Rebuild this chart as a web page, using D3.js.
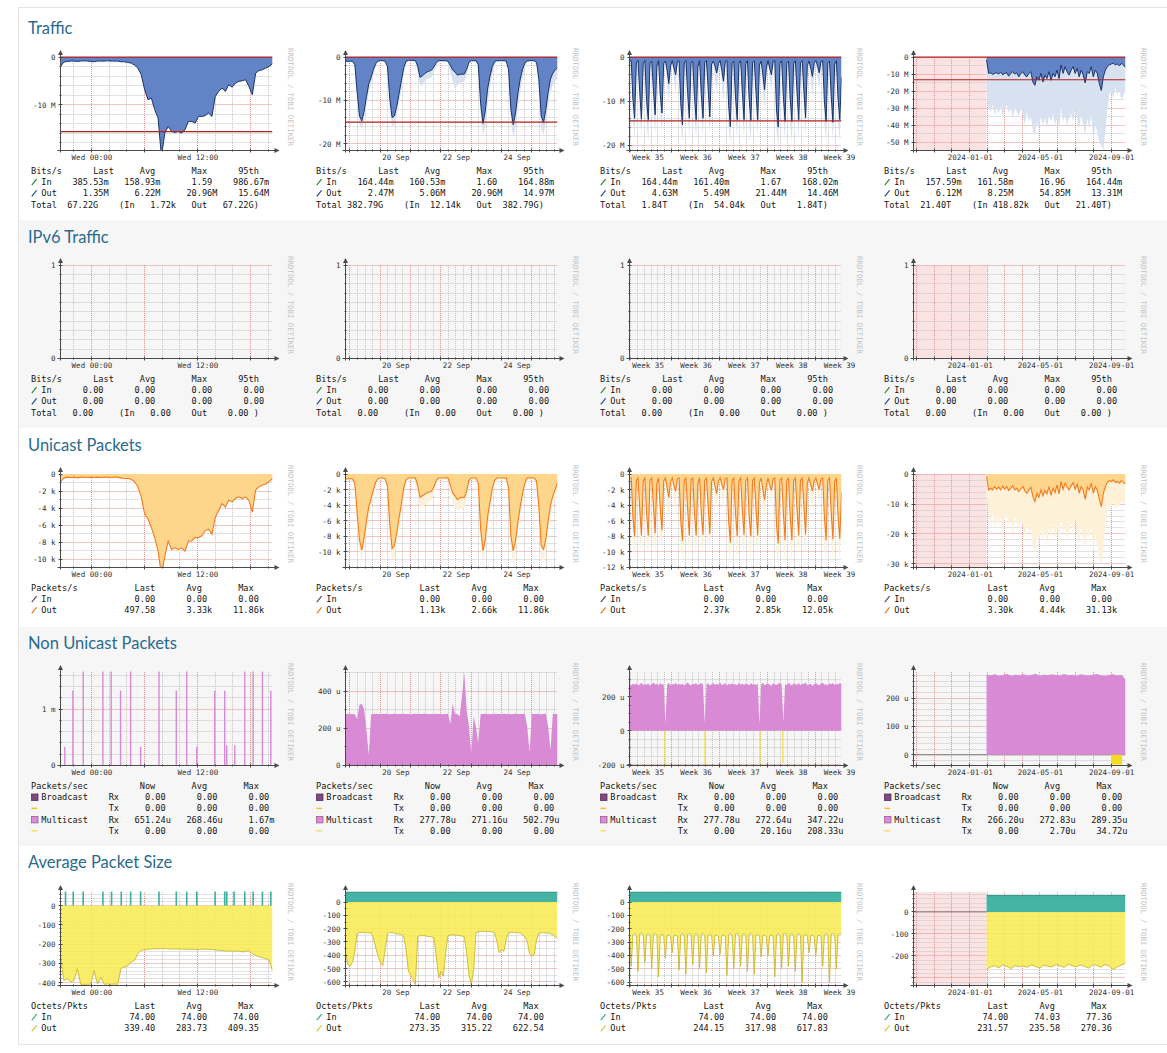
<!DOCTYPE html>
<html>
<head>
<meta charset="utf-8">
<title>Port graphs</title>
<script src="https://cdn.jsdelivr.net/npm/d3@7"></script>
<style>
	html, body { margin: 0; padding: 0; background: #ffffff; }
	svg { display: block; }
	.section-title { font-family: Lato, "Noto Sans", sans-serif; font-size: 16.5px; fill: #2a6b90; }
	.axis-label { font-family: "DejaVu Sans Mono", monospace; font-size: 7.5px; fill: #333; }
	.legend { font-family: "DejaVu Sans Mono", monospace; font-size: 8.6px; fill: #151515; }
	.watermark { font-family: "DejaVu Sans Mono", monospace; font-size: 7.4px; fill: #c4c4c4; }
	.grid-minor { stroke: #c4c4c4; stroke-width: 1; stroke-dasharray: 1 1; }
	.grid-major { stroke: #e58f8f; stroke-width: 1; stroke-dasharray: 1 1; }
	.axis-line { stroke: #4a4a4a; stroke-width: 1; fill: none; }
</style>
</head>
<body>
<svg id="chart" width="1167" height="1053"></svg>
<script>
/** sections and time ranges */
var sectionTitles = ['Traffic', 'IPv6 Traffic', 'Unicast Packets', 'Non Unicast Packets', 'Average Packet Size'];
var periodNames = ['day', 'week', 'month', 'year'];
var graphEnd = '2024-09-25 20:30';
var yearDataStart = '2024-01-30';

/** Traffic, Mbit/s; out is drawn below zero */
var trafficDayOut = [1.96, 1.05, 0.91, 0.84, 0.84, 0.91, 0.84, 0.77, 0.84, 0.91,
	0.98, 0.84, 0.84, 0.84, 0.77, 0.84, 0.84, 0.84, 0.98, 0.98,
	1.12, 1.26, 1.68, 2.31, 3.71, 6.85, 8.95, 8.6, 11.05, 12.8,
	20.9, 15.94, 14.55, 15.6, 15.8, 15.6, 15.94, 15.24, 13.5, 13.5,
	13.85, 12.45, 12.45, 12.3, 11.75, 12.45, 8.25, 7.2, 6.5, 7.2,
	5.8, 6.3, 5.45, 5.1, 4.96, 4.75, 6.15, 7.9, 3.36, 2.8,
	2.66, 2.31, 1.96, 1.35];
var trafficWeekOut = [0.96, 0.96, 0.96, 0.96, 1.7, 8.0, 13.56, 14.67, 12.44, 9.11,
	6.15, 4.67, 2.81, 1.48, 0.89, 0.81, 0.81, 0.96, 2.07, 9.48,
	13.93, 13.56, 11.33, 8.37, 5.41, 2.44, 0.96, 0.74, 0.74, 0.74,
	0.81, 2.07, 4.67, 4.3, 3.85, 3.41, 3.19, 2.96, 2.22, 1.19,
	0.81, 0.81, 0.81, 0.81, 0.96, 1.93, 2.96, 3.41, 4.15, 4.0,
	3.93, 3.93, 2.81, 1.19, 0.81, 0.81, 0.81, 1.7, 10.6, 15.26,
	12.44, 7.26, 4.44, 2.22, 1.04, 0.81, 0.81, 0.81, 0.81, 0.89,
	2.81, 12.07, 15.56, 12.81, 8.37, 5.04, 2.81, 1.33, 0.89, 0.81,
	0.81, 0.81, 1.19, 5.04, 13.56, 15.04, 12.07, 8.0, 5.04, 3.7,
	2.96, 2.47];
var trafficWeekOutMax = [1.2, 1.2, 1.2, 1.2, 2.5, 10, 15.5, 16.5, 14.5, 11,
	8, 6, 4, 2.2, 1.2, 1.1, 1.1, 1.1, 3, 12,
	16, 15.5, 13.5, 10.5, 7.5, 4, 1.5, 1.0, 1.0, 1.0,
	1.0, 4, 6.5, 6.5, 5.5, 5, 5, 4.5, 3.5, 1.8,
	1.1, 1.1, 1.1, 1.1, 1.1, 3.5, 5.5, 7, 6.5, 6,
	5.8, 5.5, 4, 1.5, 1.1, 1.1, 1.1, 3, 13, 18,
	16, 11, 7, 4, 1.8, 1.1, 1.1, 1.1, 1.1, 1.1,
	4, 15, 18.5, 16, 11.5, 8, 5, 2.5, 1.1, 1.1,
	1.1, 1.1, 2, 8, 16.5, 18, 15, 11, 8, 6.5,
	5.5, 5];
// six-hourly samples from Sun 25 Aug 20:30
var trafficMonthOut = [0.9,
	0.8, 9.5, 13.9, 1.3, 0.8, 8.0, 14.1, 1.5, 0.8, 10.0, 14.2, 1.2, 0.9, 7.5, 13.1, 2.0,
	0.8, 8.5, 12.7, 1.4, 0.9, 3.0, 6.0, 2.0, 0.8, 2.5, 4.0, 1.0,
	0.8, 10.5, 15.4, 1.3, 0.8, 8.0, 13.9, 1.2, 0.9, 9.0, 14.2, 2.2, 0.8, 8.5, 13.9, 1.2,
	0.8, 7.0, 13.6, 1.6, 0.9, 2.0, 3.6, 1.5, 0.8, 3.0, 5.5, 1.0,
	0.8, 11.0, 15.8, 1.3, 0.9, 9.0, 14.2, 1.4, 0.8, 8.0, 14.2, 1.5, 0.8, 9.5, 14.4, 1.2,
	0.9, 8.0, 14.2, 1.8, 0.9, 4.0, 7.4, 2.5, 0.8, 2.5, 4.0, 1.0,
	0.8, 12.0, 15.9, 1.4, 0.8, 9.0, 14.6, 1.3, 0.9, 9.5, 14.6, 1.5, 0.8, 8.0, 14.2, 1.3,
	0.8, 7.5, 13.8, 1.9, 0.9, 2.5, 4.4, 1.4, 0.8, 2.0, 3.6, 1.0,
	0.8, 10.0, 14.6, 1.3, 0.9, 9.0, 14.8, 1.6, 0.8, 9.5, 14.2, 4.63];
var trafficMonthOutMax = [2.0,
	1.5, 14, 18.5, 3.5, 1.5, 13, 18, 4, 1.6, 15, 19, 3, 1.5, 12, 17.5, 4.5,
	1.5, 13, 17, 3.5, 1.6, 6, 10, 4, 1.5, 5, 8, 2.5,
	1.5, 15, 19.5, 3.5, 1.5, 13, 18, 3, 1.6, 14, 18.5, 5, 1.5, 13.5, 18, 3,
	1.5, 12, 17.5, 4, 1.6, 5, 8, 3.5, 1.5, 6, 10, 2.5,
	1.5, 16, 20, 3.5, 1.6, 14, 18.5, 3.5, 1.5, 13, 18.5, 4, 1.5, 15, 19, 3,
	1.6, 13, 18, 4.5, 1.6, 8, 12, 5, 1.5, 5, 8, 2.5,
	1.5, 16.5, 20.5, 3.5, 1.5, 14, 19, 3.5, 1.6, 15, 19.5, 4, 1.5, 13, 18.5, 3.5,
	1.5, 12.5, 18, 4.5, 1.6, 5, 9, 3.5, 1.5, 4.5, 7.5, 2.5,
	1.5, 15, 19.5, 3.5, 1.6, 14, 19, 4, 1.5, 15, 19, 8];
// roughly every 3.5 days from the first stored sample
var trafficYearOut = [1.6, 9.6, 9.2, 10.2, 9.6, 9.2, 10.0, 8.8, 10.4, 9.6,
	9.2, 11.2, 9.6, 8.6, 10.0, 9.2, 11.6, 9.6, 8.6, 10.6,
	11.6, 9.6, 8.6, 14.6, 16.6, 11.6, 13.6, 9.6, 14.6, 10.6,
	12.6, 8.6, 13.6, 9.6, 11.6, 7.6, 12.6, 4.6, 9.6, 5.6,
	8.6, 10.6, 7.6, 5.6, 9.6, 6.6, 11.6, 7.6, 10.6, 15.2,
	8.6, 9.6, 5.6, 11.6, 7.6, 9.6, 15.6, 19.6, 11.6, 7.6,
	5.6, 4.6, 4.0, 3.6, 4.6, 4.0, 5.2, 3.6, 4.6, 6.12];
var trafficYearOutMax = [20, 30, 32, 28, 34, 30, 33, 29, 35, 31,
	28, 33, 30, 36, 30, 32, 35, 30, 34, 40,
	32, 38, 35, 44, 46, 38, 42, 35, 40, 36,
	42, 34, 38, 33, 40, 36, 42, 30, 38, 34,
	40, 36, 33, 38, 30, 36, 42, 34, 40, 45,
	36, 42, 34, 48, 40, 44, 50, 52, 54.8, 44,
	30, 22, 20, 24, 18, 22, 20, 25, 22, 20];
var trafficOut95th = [15.64, 14.97, 14.46, 13.31];
var trafficYMin = [-19.6, -21.5, -21.2, -54.9];
var trafficYMinor = [2, 2, 2, 5];
var trafficYTicks = [[-10, 0], [-20, -10, 0], [-20, -10, 0], [-50, -40, -30, -20, -10, 0]];
var trafficYLabels = [['-10 M', '0'], ['-20 M', '-10 M', '0'], ['-20 M', '-10 M', '0'],
	['-50 M', '-40 M', '-30 M', '-20 M', '-10 M', '0']];
var trafficLegendIn = [['385.53m', '158.93m', '1.59', '986.67m'], ['164.44m', '160.53m', '1.60', '164.88m'],
	['164.44m', '161.40m', '1.67', '168.02m'], ['157.59m', '161.58m', '16.96', '164.44m']];
var trafficLegendOut = [['1.35M', '6.22M', '20.96M', '15.64M'], ['2.47M', '5.06M', '20.96M', '14.97M'],
	['4.63M', '5.49M', '21.44M', '14.46M'], ['6.12M', '8.25M', '54.85M', '13.31M']];
var trafficLegendTotal = [['67.22G', '1.72k', '67.22G'], ['382.79G', '12.14k', '382.79G'],
	['1.84T', '54.04k', '1.84T'], ['21.40T', '418.82k', '21.40T']];

/** IPv6 traffic */
var ipv6Values = [0, 0];
var ipv6Legend = ['0.00', '0.00', '0.00', '0.00'];
var ipv6LegendTotal = ['0.00', '0.00', '0.00'];

/** Unicast packets, k/s; out is drawn below zero */
var unicastDayOut = [0.88, 0.48, 0.36, 0.4, 0.36, 0.44, 0.36, 0.36, 0.4, 0.36,
	0.4, 0.36, 0.4, 0.36, 0.36, 0.4, 0.36, 0.36, 0.44, 0.52,
	0.52, 0.6, 0.88, 1.48, 2.68, 4.68, 5.28, 6.28, 7.48, 9.08,
	11.86, 9.68, 7.88, 8.88, 8.68, 8.88, 8.68, 9.08, 7.88, 7.88,
	7.48, 7.48, 7.28, 6.68, 6.48, 7.08, 5.08, 4.28, 3.48, 3.88,
	3.08, 3.28, 2.88, 2.68, 2.88, 2.68, 3.08, 4.48, 1.88, 1.48,
	1.28, 1.16, 0.88, 0.5];
var unicastWeekOut = [0.6, 0.6, 0.6, 0.6, 1.2, 5, 8.5, 9.8, 8.2, 6.0,
	4.2, 3.2, 2.0, 1.0, 0.6, 0.5, 0.5, 0.6, 1.5, 6.5,
	9.6, 9.2, 7.6, 5.6, 3.8, 1.8, 0.7, 0.5, 0.5, 0.5,
	0.5, 1.5, 3.0, 2.8, 2.6, 2.4, 2.3, 2.2, 1.6, 0.8,
	0.5, 0.5, 0.5, 0.5, 0.5, 1.4, 2.4, 2.8, 3.3, 3.1,
	3.0, 3.0, 2.2, 0.8, 0.5, 0.5, 0.5, 1.2, 7.0, 9.9,
	8.5, 5.5, 3.6, 1.9, 0.8, 0.5, 0.5, 0.5, 0.5, 0.5,
	1.8, 8.0, 9.9, 8.6, 6.2, 4.2, 2.5, 1.2, 0.5, 0.5,
	0.5, 0.5, 0.9, 4.2, 9.2, 9.7, 8.4, 6.0, 4.0, 2.8,
	2.0, 1.13];
var unicastWeekOutMax = [0.8, 0.8, 0.8, 0.8, 1.8, 6.5, 10, 11, 9.5, 7.5,
	5.5, 4.2, 3, 1.6, 0.8, 0.7, 0.7, 0.7, 2.2, 8,
	11, 10.8, 9, 7, 5, 2.8, 1.0, 0.7, 0.7, 0.7,
	0.7, 2.5, 4.5, 4.2, 4, 3.8, 3.5, 3.3, 2.5, 1.2,
	0.7, 0.7, 0.7, 0.7, 0.7, 2.2, 3.6, 4.2, 4.8, 4.5,
	4.4, 4.3, 3.2, 1.2, 0.7, 0.7, 0.7, 2, 8.5, 11.5,
	10, 7, 5, 3, 1.2, 0.7, 0.7, 0.7, 0.7, 0.7,
	2.5, 9.5, 11.86, 10, 7.5, 5.5, 3.5, 1.8, 0.7, 0.7,
	0.7, 0.7, 1.4, 5.5, 10.8, 11.3, 10, 7.5, 5.5, 4,
	3, 2];
var unicastMonthOut = [0.5,
	0.5, 5.5, 8.0, 0.8, 0.5, 4.5, 7.9, 0.9, 0.5, 5.0, 7.9, 0.8, 0.5, 4.0, 7.6, 1.2,
	0.5, 4.5, 7.2, 0.9, 0.5, 1.8, 3.0, 1.0, 0.5, 1.5, 2.2, 0.6,
	0.5, 6.0, 8.6, 0.8, 0.5, 4.5, 7.9, 0.7, 0.5, 5.0, 7.9, 1.3, 0.5, 5.0, 7.8, 0.8,
	0.5, 4.0, 7.7, 1.0, 0.5, 1.5, 2.5, 0.9, 0.5, 1.3, 2.0, 0.6,
	0.5, 6.0, 8.8, 0.8, 0.5, 5.0, 8.0, 0.9, 0.5, 4.5, 7.8, 0.9, 0.5, 5.5, 8.0, 0.8,
	0.5, 4.5, 7.9, 1.1, 0.5, 2.0, 3.3, 1.5, 0.5, 1.4, 2.1, 0.6,
	0.5, 6.5, 8.9, 0.8, 0.5, 5.0, 8.5, 0.8, 0.5, 5.5, 8.5, 0.9, 0.5, 4.5, 7.9, 0.8,
	0.5, 4.0, 7.8, 1.2, 0.5, 1.4, 2.2, 0.9, 0.5, 1.3, 2.0, 0.6,
	0.5, 5.5, 8.5, 0.8, 0.5, 5.0, 8.4, 1.0, 0.5, 5.5, 8.3, 2.37];
var unicastMonthOutMax = [1.0,
	0.8, 9.0, 10.8, 1.8, 0.8, 8.5, 10.5, 1.9, 0.8, 8.8, 10.6, 1.7, 0.8, 8.0, 10.2, 2.2,
	0.8, 8.2, 9.8, 1.9, 0.8, 3.5, 5.5, 2.0, 0.8, 3.0, 4.5, 1.4,
	0.8, 9.5, 11.5, 1.8, 0.8, 8.5, 10.6, 1.7, 0.8, 8.8, 10.8, 2.4, 0.8, 8.6, 10.5, 1.7,
	0.8, 8.0, 10.2, 2.0, 0.8, 3.0, 4.5, 1.6, 0.8, 2.8, 4.2, 1.3,
	0.8, 9.8, 11.8, 1.8, 0.8, 9.0, 10.8, 1.9, 0.8, 8.5, 10.5, 1.9, 0.8, 9.0, 10.9, 1.8,
	0.8, 8.5, 10.6, 2.1, 0.8, 4.0, 6.0, 2.4, 0.8, 2.8, 4.2, 1.3,
	0.8, 10.0, 12.05, 1.8, 0.8, 9.2, 11.2, 1.8, 0.8, 9.2, 11.0, 1.9, 0.8, 8.6, 10.5, 1.8,
	0.8, 8.2, 10.2, 2.2, 0.8, 3.0, 4.6, 1.8, 0.8, 2.6, 4.0, 1.3,
	0.8, 9.4, 11.2, 1.8, 0.8, 9.2, 11.0, 2.0, 0.8, 9.0, 10.8, 3.2];
var unicastYearOut = [0.79, 5.28, 4.72, 5.28, 4.16, 5.06, 4.38, 5.28, 3.93, 5.06,
	4.16, 5.51, 4.72, 3.93, 5.28, 4.72, 5.84, 5.06, 4.16, 5.51,
	6.4, 5.28, 4.38, 7.53, 9.21, 6.4, 7.75, 5.28, 7.3, 5.51,
	6.63, 4.16, 6.97, 4.72, 6.18, 3.6, 6.63, 2.47, 5.06, 3.03,
	4.38, 5.28, 3.93, 2.81, 5.06, 3.26, 6.4, 4.16, 5.28, 8.43,
	4.38, 5.28, 3.03, 6.4, 4.16, 5.28, 8.43, 10.9, 6.4, 4.16,
	2.81, 2.13, 2.47, 1.91, 2.81, 2.47, 3.03, 2.13, 2.81, 3.30];
var unicastYearOutMax = [6, 14, 16, 13, 18, 15, 17, 14, 19, 15,
	13, 17, 15, 20, 14, 16, 18, 15, 17, 22,
	16, 20, 18, 24, 26, 20, 23, 18, 22, 19,
	24, 17, 21, 16, 22, 18, 24, 14, 20, 17,
	22, 19, 16, 21, 15, 19, 23, 17, 21, 25,
	18, 22, 16, 26, 20, 24, 28, 31, 24, 18,
	12, 10, 11, 9, 12, 10, 11, 9, 10, 9];
var unicastYMin = [-11.0, -12.05, -12.0, -31.2];
var unicastYMinor = [1, 1, 1, 2];
var unicastYMajor = [2, 2, 2, 10];
var unicastYTicks = [[-10, -8, -6, -4, -2, 0], [-10, -8, -6, -4, -2, 0], [-12, -10, -8, -6, -4, -2, 0], [-30, -20, -10, 0]];
var unicastYLabels = [['-10 k', '-8 k', '-6 k', '-4 k', '-2 k', '0'], ['-10 k', '-8 k', '-6 k', '-4 k', '-2 k', '0'],
	['-12 k', '-10 k', '-8 k', '-6 k', '-4 k', '-2 k', '0'], ['-30 k', '-20 k', '-10 k', '0']];
var unicastLegendIn = [['0.00', '0.00', '0.00'], ['0.00', '0.00', '0.00'], ['0.00', '0.00', '0.00'], ['0.00', '0.00', '0.00']];
var unicastLegendOut = [['497.58', '3.33k', '11.86k'], ['1.13k', '2.66k', '11.86k'], ['2.37k', '2.85k', '12.05k'], ['3.30k', '4.44k', '31.13k']];

/** Non unicast packets, u/s (multicast tx drawn below zero) */
var multicastDayRx = [[0.49, 330], [1.40, 1330], [2.57, 1670], [4.80, 1670], [5.74, 1670], [6.80, 1330], [7.94, 1670],
	[9.07, 330], [11.15, 1670], [13.11, 1330], [14.29, 1670], [15.42, 330], [17.46, 1330], [18.59, 1330],
	[18.82, 360], [19.73, 360], [20.86, 1670], [21.81, 1670], [22.86, 1670], [23.81, 1330]];
var multicastWeekRx = [278, 277, 279, 278, 276, 249, 327, 333, 300, 191,
	55, 278, 277, 279, 278, 278, 277, 279, 278, 276,
	278, 279, 277, 278, 278, 279, 277, 278, 276, 278,
	279, 278, 277, 278, 279, 278, 277, 278, 278, 279,
	277, 278, 276, 278, 279, 224, 333, 278, 277, 264,
	373, 500, 300, 209, 64, 264, 209, 118, 278, 277,
	279, 278, 276, 278, 279, 277, 278, 278, 279, 277,
	278, 276, 278, 279, 277, 278, 278, 279, 209, 73,
	278, 277, 279, 278, 276, 278, 279, 209, 82, 278,
	277, 278];
var multicastMonthRx = [272, 268, 276, 270, 280, 266, 274, 282, 269, 275,
	271, 278, 265, 273, 284, 270, 276, 268, 279, 272,
	274, 40, 270, 281, 267, 275, 272, 283, 269, 276,
	270, 278, 266, 274, 285, 271, 268, 277, 273, 280,
	267, 275, 282, 270, 45, 272, 279, 266, 274, 281,
	269, 276, 271, 284, 268, 273, 279, 265, 277, 272,
	280, 270, 274, 267, 283, 271, 276, 269, 278, 273,
	266, 281, 272, 275, 268, 279, 35, 270, 284, 267,
	274, 278, 271, 265, 280, 273, 269, 277, 282, 270,
	50, 275, 268, 283, 272, 266, 279, 274, 270, 281,
	267, 276, 273, 285, 269, 271, 278, 264, 275, 280,
	272, 268, 277, 283, 270, 274, 266, 279, 273, 281,
	269, 276, 272, 280, 277.78];
var multicastMonthTx = [[5.19, 200], [11.04, 208], [19.08, 205], [22.43, 190]];
var multicastYearRx = [283, 281, 284, 280, 282, 285, 279, 283, 281, 284,
	280, 282, 286, 279, 283, 281, 284, 282, 280, 285,
	281, 283, 279, 284, 282, 280, 283, 285, 281, 279,
	282, 284, 280, 283, 266.2];
var multicastYearTx = [['2024-09-01', '2024-09-20', 34.72]];
var nonUnicastYDomain = [[0, 1660], [0, 503], [-204, 345], [-37.8, 292]];
var nonUnicastYMinor = [200, 100, 50, 20];
var nonUnicastYMajor = [1000, 200, 200, 100];
var nonUnicastYTicks = [[0, 1000], [0, 200, 400], [-200, 0, 200], [0, 100, 200]];
var nonUnicastYLabels = [['0', '1 m'], ['0', '200 u', '400 u'], ['-200 u', '0', '200 u'], ['0', '100 u', '200 u']];
var broadcastLegend = ['0.00', '0.00', '0.00'];
var multicastLegendRx = [['651.24u', '268.46u', '1.67m'], ['277.78u', '271.16u', '502.79u'],
	['277.78u', '272.64u', '347.22u'], ['266.20u', '272.83u', '289.35u']];
var multicastLegendTx = [['0.00', '0.00', '0.00'], ['0.00', '0.00', '0.00'], ['0.00', '20.16u', '208.33u'], ['0.00', '2.70u', '34.72u']];

/** Average packet size, octets; out is drawn below zero */
var avgDayIn = [[0.57, 74], [1.44, 74], [2.57, 74], [4.80, 74], [5.78, 74], [6.88, 74], [7.94, 74], [9.07, 74],
	[11.15, 74], [13.11, 74], [14.29, 74], [15.42, 74], [17.50, 74], [18.59, 74], [18.82, 74], [19.65, 74],
	[20.86, 74], [21.81, 74], [22.86, 74], [23.81, 74]];
var avgDayOut = [267, 389, 380, 396, 389, 328, 409, 409, 409, 407,
	337, 407, 372, 409, 407, 409, 407, 409, 325, 319,
	312, 293, 284, 249, 232, 228, 226, 225, 224, 224,
	223, 223, 224, 224, 225, 225, 226, 226, 226, 227,
	227, 228, 225, 226, 227, 228, 229, 232, 233, 235,
	236, 236, 237, 235, 240, 238, 232, 250, 258, 265,
	270, 275, 283, 339.4];
var avgIn = [74, 74];
var avgWeekOut = [382, 470, 482, 452, 370, 238, 228, 228, 228, 230,
	232, 232, 270, 345, 408, 452, 478, 358, 238, 228,
	230, 232, 238, 242, 245, 258, 358, 520, 552, 582,
	620, 262, 252, 252, 252, 257, 260, 262, 270, 408,
	570, 520, 557, 382, 252, 248, 245, 248, 250, 252,
	255, 262, 382, 545, 620, 508, 232, 222, 220, 220,
	220, 220, 222, 225, 232, 295, 382, 358, 370, 278,
	232, 228, 228, 228, 230, 232, 245, 262, 295, 388,
	402, 395, 282, 232, 232, 230, 232, 232, 238, 245,
	262, 273.35];
var avgMonthOut = [255,
	480, 245, 235, 250, 520, 240, 232, 248, 450, 245, 236, 252, 500, 242, 234, 250,
	560, 248, 238, 255, 420, 250, 245, 258, 380, 252, 248, 255,
	510, 244, 234, 250, 540, 240, 233, 248, 470, 246, 236, 252, 500, 243, 235, 250,
	530, 247, 237, 254, 400, 250, 246, 257, 390, 252, 247, 255,
	550, 243, 233, 249, 500, 241, 232, 250, 480, 245, 236, 251, 520, 242, 234, 249,
	540, 247, 238, 255, 410, 251, 246, 256, 400, 253, 248, 254,
	560, 244, 234, 250, 500, 240, 232, 248, 480, 246, 236, 252, 520, 243, 235, 250,
	600, 248, 238, 256, 380, 252, 247, 257, 400, 253, 248, 255,
	480, 244, 235, 250, 600, 241, 233, 249, 500, 245, 236, 244.15];
var avgYearOut = [262, 250, 245, 255, 240, 248, 258, 244, 250, 246,
	252, 241, 249, 255, 243, 247, 251, 240, 245, 253,
	238, 246, 250, 242, 248, 256, 240, 244, 252, 239,
	247, 262, 250, 242, 231.57];
var avgYDomain = [[-415, 71], [-627, 75], [-625, 75], [-335, 90]];
var avgYMinor = [20, 50, 50, 20];
var avgYTicks = [[-400, -300, -200, -100, 0], [-600, -500, -400, -300, -200, -100, 0], [-600, -500, -400, -300, -200, -100, 0], [-200, -100, 0]];
var avgYLabels = [['-400', '-300', '-200', '-100', '0'], ['-600', '-500', '-400', '-300', '-200', '-100', '0'],
	['-600', '-500', '-400', '-300', '-200', '-100', '0'], ['-200', '-100', '0']];
var avgLegendIn = [['74.00', '74.00', '74.00'], ['74.00', '74.00', '74.00'], ['74.00', '74.00', '74.00'], ['74.00', '74.03', '77.36']];
var avgLegendOut = [['339.40', '283.73', '409.35'], ['273.35', '315.22', '622.54'], ['244.15', '317.98', '617.83'], ['231.57', '235.58', '270.36']];

(function(d3) {
	'use strict';

	var svg = d3.select('#chart');
	var PLOT_W = 212, PLOT_H = 93.4, CHAR_W = 5.18, LINE_H = 11.2;
	var colLeft = [60.5, 345.5, 629.5, 913.5];
	var rowBottom = [150.5, 358.5, 567.5, 765.5, 985.5];
	var titleY = [34, 243, 451, 649, 868];
	var bandY = [10, 220, 428, 627, 846, 1044];
	var bandFill = ['#ffffff', '#f6f6f6', '#ffffff', '#f6f6f6', '#ffffff'];

	var parseTime = d3.timeParse('%Y-%m-%d %H:%M'), parseDay = d3.timeParse('%Y-%m-%d');
	var END = parseTime(graphEnd), YEAR_START = parseDay(yearDataStart);
	var domains = {
		day: [d3.timeHour.offset(END, -24), END],
		week: [d3.timeDay.offset(END, -7), END],
		month: [d3.timeDay.offset(END, -31), END],
		year: [d3.timeDay.offset(END, -366), END]
	};

	/** time grid and labels, rrdtool style */
	var timeGrid = {
		day: {
			minor: d3.timeHour.every(2), major: d3.timeHour.every(6), format: d3.timeFormat('%a %H:%M'),
			labels: function(dom) { return d3.timeHour.every(12).range(dom[0], dom[1]); }
		},
		week: {
			minor: d3.timeHour.every(6), major: d3.timeDay, format: d3.timeFormat('%d %b'),
			labels: function(dom) {
				return d3.timeDay.range(dom[0], dom[1]).filter(function(d) {
					return d.getDate() % 2 === 0;
				}).map(function(d) { return d3.timeHour.offset(d, 12); }).filter(function(d) { return d < dom[1]; });
			}
		},
		month: {
			minor: d3.timeDay, major: d3.timeSunday, format: d3.timeFormat('Week %V'),
			labels: function(dom) {
				return d3.timeSunday.range(d3.timeDay.offset(dom[0], -7), dom[1]).map(function(d) {
					return d3.timeHour.offset(d, 84);
				}).filter(function(d) { return d > dom[0] && d < dom[1]; });
			}
		},
		year: {
			minor: null, major: d3.timeMonth, format: d3.timeFormat('%Y-%m-%d'),
			labels: function(dom) { return d3.timeMonth.every(4).range(dom[0], dom[1]); }
		}
	};

	var spread = function(values, from, to) {
		var t0 = +from, t1 = +to, n = values.length;
		return values.map(function(v, i) {
			return { t: new Date(t0 + (t1 - t0) * i / (n - 1)), v: v };
		});
	};
	var offsetTime = function(from, amount, unit) {
		return new Date(+from + amount * (unit === 'hour' ? 3600e3 : 86400e3));
	};
	var stepValues = function(domain, step) {
		var lo = Math.ceil(domain[0] / step - 1e-6), hi = Math.floor(domain[1] / step + 1e-6);
		return d3.range(lo, hi + 1).map(function(k) { return Math.round(k * step * 1000) / 1000; });
	};
	var crisp = function(v) { return Math.round(v - 0.5) + 0.5; };

	/** legend helpers: monospace columns */
	var sfx = function(v) { return /[a-zA-Z]$/.test(v) ? v : v + ' '; };
	var tok = function(text, col, alignRight) {
		return [text, alignRight ? col - text.length + 1 : col];
	};
	var valueTokens = function(values, ends) {
		return values.map(function(v, i) { return tok(sfx(v), ends[i], true); });
	};
	var bitsLegend = function(inVals, outVals, totals) {
		var ends = [14, 24, 35, 45];
		return [
			{ tokens: [tok('Bits/s', 0), tok('Last', 12), tok('Avg', 21), tok('Max', 31), tok('95th', 40)] },
			{ marker: { type: 'slash', color: '#2f8a34' }, tokens: [tok('In', 2)].concat(valueTokens(inVals, ends)) },
			{ marker: { type: 'slash', color: '#2b4c9c' }, tokens: [tok('Out', 2)].concat(valueTokens(outVals, ends)) },
			{ tokens: [tok('Total', 0), tok(sfx(totals[0]), 12, true), tok('(In', 17), tok(sfx(totals[1]), 27, true),
				tok('Out', 31), tok(sfx(totals[2]) + ')', 43, true)] }
		];
	};
	var packetLegend = function(title, inVals, outVals, inColor, outColor) {
		var ends = [24, 34, 44];
		return [
			{ tokens: [tok(title, 0), tok('Last', 20), tok('Avg', 30), tok('Max', 40)] },
			{ marker: { type: 'slash', color: inColor }, tokens: [tok('In', 2)].concat(valueTokens(inVals, ends)) },
			{ marker: { type: 'slash', color: outColor }, tokens: [tok('Out', 2)].concat(valueTokens(outVals, ends)) }
		];
	};
	var nonUnicastLegend = function(c) {
		var ends = [26, 36, 46];
		return [
			{ tokens: [tok('Packets/sec', 0), tok('Now', 21), tok('Avg', 31), tok('Max', 41)] },
			{ marker: { type: 'box', color: '#7d4a80', stroke: '#5a2f5d' }, tokens: [tok('Broadcast', 2), tok('Rx', 15)].concat(valueTokens(broadcastLegend, ends)) },
			{ marker: { type: 'dash', color: '#f0c21c' }, tokens: [tok('Tx', 15)].concat(valueTokens(broadcastLegend, ends)) },
			{ marker: { type: 'box', color: '#da8cd7', stroke: '#9b5c98' }, tokens: [tok('Multicast', 2), tok('Rx', 15)].concat(valueTokens(multicastLegendRx[c], ends)) },
			{ marker: { type: 'dash', color: '#f5e04a' }, tokens: [tok('Tx', 15)].concat(valueTokens(multicastLegendTx[c], ends)) }
		];
	};

	var drawMarker = function(g, m, x0, cy) {
		if (m.type === 'slash') {
			g.append('line').attr('x1', x0 + 0.8).attr('y1', cy + 3).attr('x2', x0 + 5.6).attr('y2', cy - 3)
				.attr('stroke', m.color).attr('stroke-width', 1.2);
		} else if (m.type === 'box') {
			g.append('rect').attr('x', x0 + 0.5).attr('y', cy - 3.2).attr('width', 6.5).attr('height', 6.5)
				.attr('fill', m.color).attr('stroke', m.stroke).attr('stroke-width', 0.8);
		} else {
			g.append('line').attr('x1', x0 + 0.5).attr('y1', cy).attr('x2', x0 + 6).attr('y2', cy)
				.attr('stroke', m.color).attr('stroke-width', 1.4);
		}
	};

	var cleanAxis = function(sel) {
		sel.select('.domain').remove();
		sel.selectAll('text').attr('class', 'axis-label').attr('fill', null);
	};

	/** one rrdtool image */
	var drawGraph = function(spec, index) {
		var left = colLeft[spec.col], bottom = rowBottom[spec.row];
		var top = bottom - PLOT_H, right = left + PLOT_W;
		var dom = domains[spec.period], grid = timeGrid[spec.period];
		var x = d3.scaleTime().domain(dom).range([left, right]);
		var y = d3.scaleLinear().domain(spec.yDomain).range([bottom, top]);
		var g = svg.append('g').attr('class', 'graph');

		var clipId = 'plot-clip-' + index;
		g.append('clipPath').attr('id', clipId).append('rect')
			.attr('x', left).attr('y', top - 1).attr('width', PLOT_W).attr('height', PLOT_H + 1);
		var plot = g.append('g').attr('clip-path', 'url(#' + clipId + ')');

		if (spec.unknownUntil) {
			plot.append('rect').attr('x', left).attr('y', top).attr('width', x(spec.unknownUntil) - left)
				.attr('height', PLOT_H).attr('fill', '#fbe3e3');
		}

		/** grid */
		var majorX = x.ticks(grid.major);
		var majorKeys = majorX.map(Number);
		var minorX = grid.minor ? x.ticks(grid.minor).filter(function(d) { return majorKeys.indexOf(+d) < 0; }) : [];
		var majorY = stepValues(spec.yDomain, spec.yMajor);
		var minorY = stepValues(spec.yDomain, spec.yMinor).filter(function(v) { return majorY.indexOf(v) < 0; });

		var vLines = function(data, cls) {
			plot.selectAll(null).data(data).enter().append('line').attr('class', cls)
				.attr('x1', function(d) { return crisp(x(d)); }).attr('x2', function(d) { return crisp(x(d)); })
				.attr('y1', top).attr('y2', bottom);
		};
		var hLines = function(data, cls) {
			plot.selectAll(null).data(data).enter().append('line').attr('class', cls)
				.attr('y1', function(d) { return crisp(y(d)); }).attr('y2', function(d) { return crisp(y(d)); })
				.attr('x1', left).attr('x2', right);
		};
		hLines(minorY, 'grid-minor');
		vLines(minorX, 'grid-minor');
		hLines(majorY, 'grid-major');
		vLines(majorX, 'grid-major');

		/** data layers */
		spec.layers.forEach(function(layer) {
			var sign = layer.sign || 1;
			if (layer.kind === 'area') {
				var pts = spread(layer.values, layer.from || dom[0], dom[1]);
				var curve = layer.step ? d3.curveStepAfter : d3.curveLinear;
				plot.append('path').datum(pts)
					.attr('d', d3.area().curve(curve).x(function(d) { return x(d.t); }).y0(y(0))
						.y1(function(d) { return y(sign * d.v); }))
					.attr('fill', layer.fill).attr('fill-opacity', layer.opacity || 1);
				if (layer.stroke) {
					plot.append('path').datum(pts)
						.attr('d', d3.line().curve(curve).x(function(d) { return x(d.t); })
							.y(function(d) { return y(sign * d.v); }))
						.attr('fill', 'none').attr('stroke', layer.stroke).attr('stroke-width', layer.width || 1);
				}
			} else if (layer.kind === 'spikes') {
				var w = layer.width || 1.3;
				plot.selectAll(null).data(layer.events).enter().append('rect')
					.attr('x', function(d) { return x(offsetTime(dom[0], d[0], layer.unit)) - w / 2; })
					.attr('width', w)
					.attr('y', function(d) { return Math.min(y(0), y(sign * d[1])); })
					.attr('height', function(d) { return Math.abs(y(sign * d[1]) - y(0)); })
					.attr('fill', layer.fill);
			} else if (layer.kind === 'block') {
				plot.selectAll(null).data(layer.blocks).enter().append('rect')
					.attr('x', function(d) { return x(parseDay(d[0])); })
					.attr('width', function(d) { return x(parseDay(d[1])) - x(parseDay(d[0])); })
					.attr('y', function(d) { return Math.min(y(0), y(sign * d[2])); })
					.attr('height', function(d) { return Math.abs(y(sign * d[2]) - y(0)); })
					.attr('fill', layer.fill);
			} else if (layer.kind === 'rule') {
				plot.append('line').attr('x1', left).attr('x2', right)
					.attr('y1', y(layer.value)).attr('y2', y(layer.value))
					.attr('stroke', layer.color).attr('stroke-width', layer.width || 1.2);
			}
		});

		/** axes with arrows */
		var axis = g.append('g');
		axis.append('line').attr('class', 'axis-line').attr('x1', left - 3).attr('x2', right + 3).attr('y1', bottom).attr('y2', bottom);
		axis.append('line').attr('class', 'axis-line').attr('x1', left).attr('x2', left).attr('y1', bottom + 2).attr('y2', top - 3);
		axis.append('path').attr('fill', '#4a4a4a')
			.attr('d', 'M' + (right + 7) + ',' + bottom + 'L' + (right + 2) + ',' + (bottom - 2.5) + 'L' + (right + 2) + ',' + (bottom + 2.5) + 'Z');
		axis.append('path').attr('fill', '#4a4a4a')
			.attr('d', 'M' + left + ',' + (top - 7) + 'L' + (left - 2.5) + ',' + (top - 2) + 'L' + (left + 2.5) + ',' + (top - 2) + 'Z');
		axis.selectAll(null).data(majorX.concat(minorX)).enter().append('line').attr('class', 'axis-line')
			.attr('x1', function(d) { return crisp(x(d)); }).attr('x2', function(d) { return crisp(x(d)); })
			.attr('y1', function(d) { return bottom - (majorKeys.indexOf(+d) < 0 ? 1 : 2); })
			.attr('y2', function(d) { return bottom + (majorKeys.indexOf(+d) < 0 ? 1 : 2); });
		axis.selectAll(null).data(majorY.concat(minorY)).enter().append('line').attr('class', 'axis-line')
			.attr('y1', function(d) { return crisp(y(d)); }).attr('y2', function(d) { return crisp(y(d)); })
			.attr('x1', function(d) { return left - (majorY.indexOf(d) < 0 ? 1 : 2); })
			.attr('x2', function(d) { return left + (majorY.indexOf(d) < 0 ? 1 : 2); });

		g.append('g').attr('transform', 'translate(0,' + bottom + ')')
			.call(d3.axisBottom(x).tickValues(grid.labels(dom)).tickFormat(grid.format).tickSize(0).tickPadding(4.5))
			.call(cleanAxis);
		g.append('g').attr('transform', 'translate(' + (left - 2) + ',0)')
			.call(d3.axisLeft(y).tickValues(spec.yTicks).tickFormat(function(d, i) { return spec.yLabels[i]; })
				.tickSize(0).tickPadding(3))
			.call(cleanAxis);

		g.append('text').attr('class', 'watermark')
			.attr('transform', 'translate(' + (left + 227) + ',' + (top - 9) + ') rotate(90)')
			.text('RRDTOOL / TOBI OETIKER');

		/** legend */
		var lx = left - 29.5, ly = bottom + 20.5;
		spec.legend.forEach(function(line, i) {
			var cy = ly + i * LINE_H;
			line.tokens.forEach(function(t) {
				g.append('text').attr('class', 'legend').attr('x', lx + t[1] * CHAR_W).attr('y', cy + 3).text(t[0]);
			});
			if (line.marker) {
				drawMarker(g, line.marker, lx, cy);
			}
		});
	};

	/** build the twenty graph specs from the data arrays */
	var specs = [];
	var fromFor = function(c) { return c === 3 ? YEAR_START : null; };
	var RED = '#b3201c';

	var trafficOut = [trafficDayOut, trafficWeekOut, trafficMonthOut, trafficYearOut];
	var trafficOutMax = [null, trafficWeekOutMax, trafficMonthOutMax, trafficYearOutMax];
	var unicastOut = [unicastDayOut, unicastWeekOut, unicastMonthOut, unicastYearOut];
	var unicastOutMax = [null, unicastWeekOutMax, unicastMonthOutMax, unicastYearOutMax];
	var avgOut = [avgDayOut, avgWeekOut, avgMonthOut, avgYearOut];

	periodNames.forEach(function(period, c) {
		var layers = [];
		if (trafficOutMax[c]) {
			layers.push({ kind: 'area', values: trafficOutMax[c], from: fromFor(c), sign: -1, fill: '#d8e1f0' });
		}
		layers.push({ kind: 'area', values: trafficOut[c], from: fromFor(c), sign: -1, fill: '#6283c6', stroke: '#1b3468', width: 1 });
		layers.push({ kind: 'rule', value: 0, color: RED });
		layers.push({ kind: 'rule', value: -trafficOut95th[c], color: RED });
		specs.push({
			row: 0, col: c, period: period, yDomain: [trafficYMin[c], 0], yMinor: trafficYMinor[c], yMajor: 10,
			yTicks: trafficYTicks[c], yLabels: trafficYLabels[c], unknownUntil: fromFor(c), layers: layers,
			legend: bitsLegend(trafficLegendIn[c], trafficLegendOut[c], trafficLegendTotal[c])
		});
	});

	periodNames.forEach(function(period, c) {
		specs.push({
			row: 1, col: c, period: period, yDomain: [0, 1], yMinor: 0.1, yMajor: 1,
			yTicks: [0, 1], yLabels: ['0', '1'], unknownUntil: fromFor(c),
			layers: [
				{ kind: 'area', values: ipv6Values, fill: '#6283c6', stroke: '#2f8a34' },
				{ kind: 'rule', value: 0, color: RED }
			],
			legend: bitsLegend(ipv6Legend, ipv6Legend, ipv6LegendTotal)
		});
	});

	periodNames.forEach(function(period, c) {
		var layers = [];
		if (unicastOutMax[c]) {
			layers.push({ kind: 'area', values: unicastOutMax[c], from: fromFor(c), sign: -1, fill: '#fdf1d8' });
		}
		layers.push({ kind: 'area', values: unicastOut[c], from: fromFor(c), sign: -1, fill: '#fdd68c', stroke: '#f27a1f', width: 1.1 });
		specs.push({
			row: 2, col: c, period: period, yDomain: [unicastYMin[c], 0], yMinor: unicastYMinor[c], yMajor: unicastYMajor[c],
			yTicks: unicastYTicks[c], yLabels: unicastYLabels[c], unknownUntil: fromFor(c), layers: layers,
			legend: packetLegend('Packets/s', unicastLegendIn[c], unicastLegendOut[c], '#5b4b6d', '#f27a1f')
		});
	});

	var nonUnicastLayers = [
		[{ kind: 'spikes', events: multicastDayRx, unit: 'hour', fill: '#d98ad5', width: 1.4 }],
		[{ kind: 'area', values: multicastWeekRx, fill: '#d98ad5' }],
		[{ kind: 'area', values: multicastMonthRx, fill: '#d98ad5' },
			{ kind: 'spikes', events: multicastMonthTx, unit: 'day', sign: -1, fill: '#f3d61e', width: 1 }],
		[{ kind: 'rule', value: 0, color: '#777', width: 1 },
			{ kind: 'area', values: multicastYearRx, from: YEAR_START, fill: '#d98ad5' },
			{ kind: 'block', blocks: multicastYearTx, sign: -1, fill: '#f5dc22' }]
	];
	periodNames.forEach(function(period, c) {
		specs.push({
			row: 3, col: c, period: period, yDomain: nonUnicastYDomain[c], yMinor: nonUnicastYMinor[c], yMajor: nonUnicastYMajor[c],
			yTicks: nonUnicastYTicks[c], yLabels: nonUnicastYLabels[c], unknownUntil: null,
			layers: nonUnicastLayers[c], legend: nonUnicastLegend(c)
		});
	});

	periodNames.forEach(function(period, c) {
		var layers = [];
		if (c === 3) {
			layers.push({ kind: 'rule', value: 0, color: '#777', width: 1 });
		}
		if (c === 0) {
			layers.push({ kind: 'spikes', events: avgDayIn, unit: 'hour', fill: '#3fae9f', width: 1.6 });
		} else {
			layers.push({ kind: 'area', values: avgIn, from: fromFor(c), fill: '#45b4a4', stroke: '#2c9384', width: 1 });
		}
		layers.push({ kind: 'area', values: avgOut[c], from: fromFor(c), sign: -1, fill: '#f8ec55', opacity: 0.88, stroke: '#c9b733', width: 0.9 });
		specs.push({
			row: 4, col: c, period: period, yDomain: avgYDomain[c], yMinor: avgYMinor[c], yMajor: 100,
			yTicks: avgYTicks[c], yLabels: avgYLabels[c], unknownUntil: fromFor(c), layers: layers,
			legend: packetLegend('Octets/Pkts', avgLegendIn[c], avgLegendOut[c], '#3aa99a', '#d8c640')
		});
	});

	/** page */
	svg.append('rect').attr('width', 1167).attr('height', 1053).attr('fill', '#ffffff');
	sectionTitles.forEach(function(title, r) {
		svg.append('rect').attr('x', 18.5).attr('y', bandY[r]).attr('width', 1150).attr('height', bandY[r + 1] - bandY[r])
			.attr('fill', bandFill[r]);
		svg.append('text').attr('class', 'section-title').attr('x', 28).attr('y', titleY[r]).text(title);
	});
	svg.append('rect').attr('x', 18.5).attr('y', 7.5).attr('width', 1150).attr('height', bandY[5] - 7)
		.attr('fill', 'none').attr('stroke', '#e3e3e3');

	specs.forEach(drawGraph);
})(d3);
</script>
</body>
</html>
